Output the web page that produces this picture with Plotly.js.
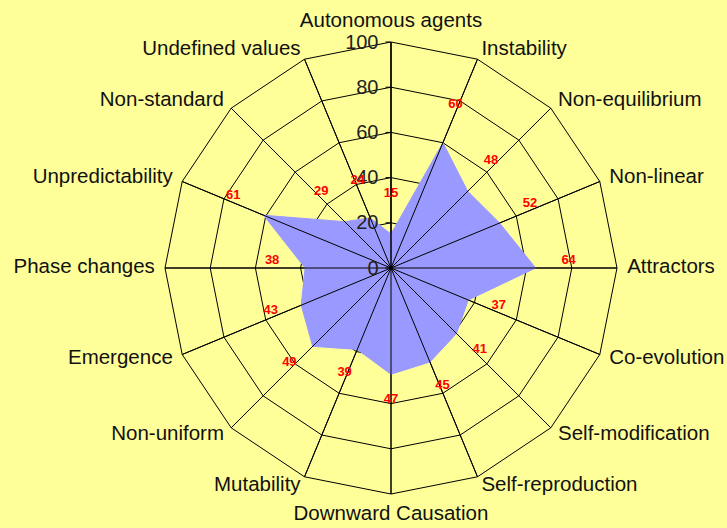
<!DOCTYPE html>
<html><head><meta charset="utf-8">
<script src="https://cdn.plot.ly/plotly-3.0.1.min.js"></script>
<style>html,body{margin:0;padding:0;background:#FFFF99;}</style>
</head><body><div id="chart" style="width:727px;height:528px;"></div>
<script>
const categories = ["Autonomous agents","Instability","Non-equilibrium","Non-linear","Attractors","Co-evolution","Self-modification","Self-reproduction","Downward Causation","Mutability","Non-uniform","Emergence","Phase changes","Unpredictability","Non-standard","Undefined values"];
const values = [15,60,48,52,64,37,41,45,47,39,49,43,38,61,29,24];
const radialTicks = [0,20,40,60,80,100];
const labelOffset = 14.6;
const rMax = radialTicks[radialTicks.length - 1];
const catLabelR = rMax + 4.5;

// geometry of the chart area (pixels)
const W = 727, H = 528, cx = 391, cy = 268, R1 = 226, R2 = 258, valueLift = 7;
const dom = (R, c) => ({x:[(cx-R)/W,(cx+R)/W], y:[(H-c-R)/H,(H-c+R)/H]});

const n = categories.length;
const area = {
  type:'scatterpolar', mode:'lines', fill:'toself',
  r: values.concat([values[0]]), theta: categories.concat([categories[0]]),
  line:{color:'#9999FF', width:1}, fillcolor:'#9999FF', hoverinfo:'skip'
};
const spokeR = [], spokeT = [];
categories.forEach(c => { spokeR.push(0, rMax, null); spokeT.push(c, c, null); });
const spokes = {
  type:'scatterpolar', mode:'lines', r: spokeR, theta: spokeT,
  line:{color:'black', width:1}, hoverinfo:'skip', connectgaps:false
};
const valueLabels = {
  type:'scatterpolar', mode:'text', subplot:'polar3',
  r: values.map(v => v + labelOffset), theta: categories,
  text: values.map(v => '<b>' + v + '</b>'),
  textposition:'middle center',
  textfont:{family:'Liberation Sans, Arial, sans-serif', size:13, color:'#FF0000'},
  hoverinfo:'skip', cliponaxis:false
};
const catPos = categories.map((c, i) => i === 0 ? 'top center' : (i === n/2 ? 'bottom center' : (i < n/2 ? 'middle right' : 'middle left')));
const catLabels = {
  type:'scatterpolar', mode:'text', subplot:'polar2',
  r: categories.map(() => catLabelR), theta: categories,
  text: categories, textposition: catPos,
  textfont:{family:'Liberation Sans, Arial, sans-serif', size:20.5, color:'#111'},
  hoverinfo:'skip', cliponaxis:false
};
const hiddenPolar = (R, c, range) => ({
  domain:dom(R, c),
  bgcolor:'rgba(0,0,0,0)',
  radialaxis:{range:range, visible:false},
  angularaxis:{direction:'clockwise', rotation:90, visible:false}
});
const layout = {
  width:W, height:H,
  margin:{l:0,r:0,t:0,b:0},
  paper_bgcolor:'#FFFF99',
  showlegend:false,
  font:{family:'Liberation Sans, Arial, sans-serif', color:'#111'},
  polar:{
    domain:dom(R1, cy),
    bgcolor:'#FFFF99',
    gridshape:'linear',
    radialaxis:{
      range:[0,rMax], tickvals:radialTicks, angle:90, side:'counterclockwise',
      tickangle:90,
      showline:true, linecolor:'black', linewidth:1,
      gridcolor:'black', gridwidth:1,
      ticks:'outside', ticklen:5, tickcolor:'black',
      tickfont:{size:20, color:'#222'},
      layer:'above traces'
    },
    angularaxis:{
      direction:'clockwise', rotation:90,
      linecolor:'black', linewidth:1, gridcolor:'black', gridwidth:1,
      ticks:'', showticklabels:false,
      layer:'above traces'
    }
  },
  polar2: hiddenPolar(R2, cy, [0, rMax*R2/R1]),
  polar3: hiddenPolar(R1, cy - valueLift, [0, rMax])
};
Plotly.newPlot('chart', [area, spokes, valueLabels, catLabels], layout, {displayModeBar:false, staticPlot:true});
</script></body></html>
